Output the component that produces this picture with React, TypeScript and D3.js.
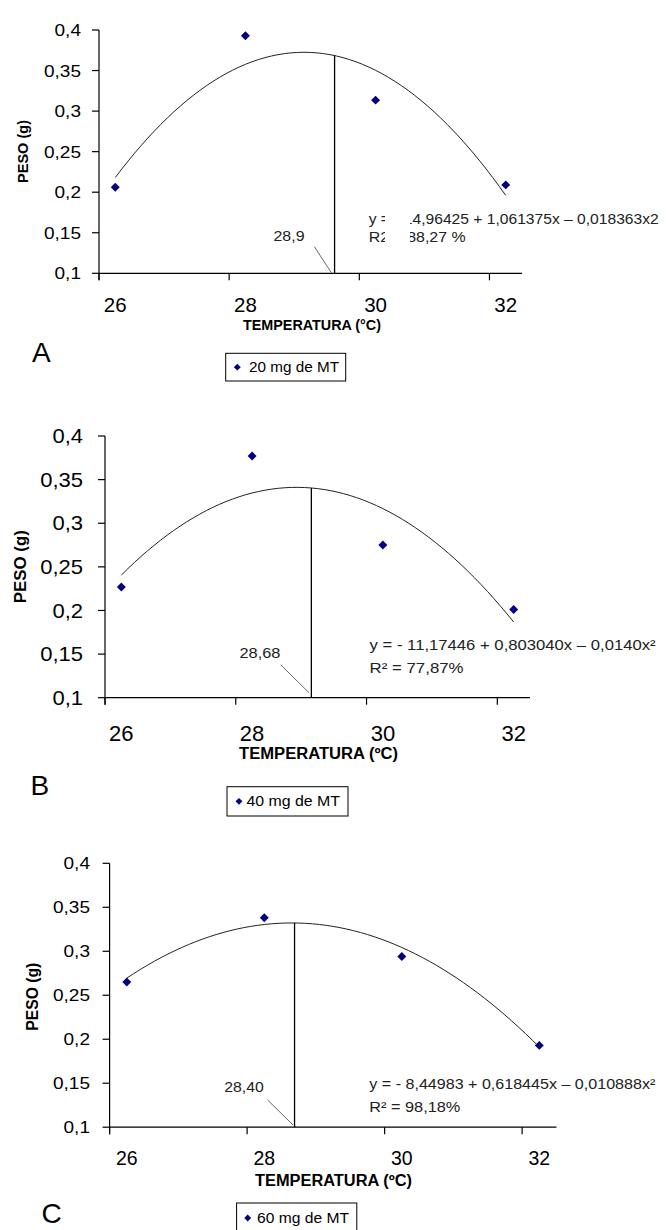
import React from 'react';
import * as d3 from 'd3';

// ---------- data ----------
const temps = [26, 28, 30, 32];
const tickTemps = [25.75, 27.75, 29.75, 31.75];
const xTickLabels = ['26', '28', '30', '32'];
const yTicks = [0.1, 0.15, 0.2, 0.25, 0.3, 0.35, 0.4];
const yTickLabels = ['0,1', '0,15', '0,2', '0,25', '0,3', '0,35', '0,4'];

const pesoA = [0.206, 0.393, 0.3135, 0.209];
const pesoB = [0.227, 0.377, 0.275, 0.201];
const pesoC = [0.265, 0.338, 0.294, 0.193];

const coefA = [-14.96425, 1.061375, -0.018363];
const coefB = [-11.17446, 0.80304, -0.014];
const coefC = [-8.44983, 0.618445, -0.010888];

const seriesNames = ['20 mg de MT', '40 mg de MT', '60 mg de MT'];
const panelLetters = ['A', 'B', 'C'];
const xTitles = ['TEMPERATURA (°C)', 'TEMPERATURA (ºC)', 'TEMPERATURA (ºC)'];
const eqTexts = [
  'y = - 14,96425 + 1,061375x – 0,018363x2',
  'y = - 11,17446 + 0,803040x – 0,0140x²',
  'y = - 8,44983 + 0,618445x – 0,010888x²',
];
const r2Texts = ['R2 = 88,27 %', 'R² = 77,87%', 'R² = 98,18%'];
const optimumLabels = ['28,9', '28,68', '28,40'];
const optimumX = [29.37, 28.906, 28.44];
// annotation label anchor (temperature, peso) and leader start/end
const labelPos = [[28.67, 0.146], [28.12, 0.1512], [27.705, 0.146]];
const leaderFrom = [[29.06, 0.1328], [28.44, 0.1375], [28.048, 0.1309]];
const leaderTo = [[29.32, 0.1007], [28.87, 0.1057], [28.418, 0.1025]];

const pesos = [pesoA, pesoB, pesoC];
const coefs = [coefA, coefB, coefC];

// ---------- layout ----------
const FONT = '"Liberation Sans", Arial, Helvetica, sans-serif';
const layouts = [
  {
    x0: 99, x1: 522, yTop: 30, yBot: 273.3,
    yLabRight: 81, yLabSize: 17, yLabScale: 1.12,
    xLabY: 311.5, xLabSize: 20.5,
    titleX: 312, titleY: 330, titleSize: 14, titleW: 138,
    pesoX: 23, pesoY: 151.5, pesoSize: 14, pesoW: 63,
    letterX: 32, letterY: 361.7,
    leg: [225.7, 353.3, 120, 27.7], legDx: 237.3, legTx: 249, legTw: 90,
    eqX: 368.7, eqY1: 223.5, eqY2: 242, eqW: 290, r2W: 97, eqSize: 14.5,
    labSize: 14, labW: 31,
    mask: [385, 206, 25, 38],
  },
  {
    x0: 105, x1: 530, yTop: 436, yBot: 697.7,
    yLabRight: 83, yLabSize: 20, yLabScale: 1.1,
    xLabY: 741, xLabSize: 22,
    titleX: 318.6, titleY: 759, titleSize: 16, titleW: 159,
    pesoX: 20, pesoY: 566.7, pesoSize: 17, pesoW: 73,
    letterX: 30.6, letterY: 795,
    leg: [227, 786.7, 121, 29.3], legDx: 239, legTx: 246.4, legTw: 93.6,
    eqX: 369.6, eqY1: 650, eqY2: 673, eqW: 286, r2W: 94, eqSize: 14.5,
    labSize: 14.5, labW: 41,
    mask: null,
  },
  {
    x0: 109.6, x1: 556.5, yTop: 863.3, yBot: 1127.2,
    yLabRight: 90, yLabSize: 17, yLabScale: 1.12,
    xLabY: 1164.5, xLabSize: 19.5,
    titleX: 333.5, titleY: 1186, titleSize: 16, titleW: 157,
    pesoX: 32, pesoY: 996.7, pesoSize: 16, pesoW: 68,
    letterX: 41.6, letterY: 1223,
    leg: [236.6, 1203, 120.2, 30], legDx: 247.7, legTx: 257, legTw: 92,
    eqX: 369.3, eqY1: 1088.5, eqY2: 1112, eqW: 286, r2W: 91, eqSize: 14.5,
    labSize: 14.5, labW: 39.5,
    mask: null,
  },
];

const diamond = (area: number) => {
  const p = d3.symbol().type(d3.symbolSquare).size(area)();
  return p as string;
};

function Panel({ i }: { i: number }) {
  const L = layouts[i];
  const peso = pesos[i];
  const coef = coefs[i];
  const x = d3.scaleLinear().domain([25.75, 32.25]).range([L.x0, L.x1]);
  const y = d3.scaleLinear().domain([0.1, 0.4]).range([L.yBot, L.yTop]);
  const f = (t: number) => coef[0] + coef[1] * t + coef[2] * t * t;
  const samples = d3.range(0, 61).map((k) => temps[0] + (k * (temps[3] - temps[0])) / 60);
  const line = d3.line<number>().x((d) => x(d)).y((d) => y(f(d)));
  const vx = optimumX[i];
  const dPoint = diamond(40);
  const dLeg = diamond(24);

  return (
    <g fontFamily={FONT}>
      {/* y axis */}
      <line x1={x(25.75)} x2={x(25.75)} y1={y(0.4)} y2={y(0.1) + 7} stroke="#000" strokeWidth={1.2} />
      {yTicks.map((t, k) => (
        <g key={'yt' + k}>
          <line x1={x(25.75) - 7} x2={x(25.75)} y1={y(t)} y2={y(t)} stroke="#000" strokeWidth={1.2} />
          <g transform={`translate(${L.yLabRight},${y(t) + L.yLabSize * 0.36}) scale(${L.yLabScale},1)`}>
            <text textAnchor="end" fontSize={L.yLabSize} fill="#000">{yTickLabels[k]}</text>
          </g>
        </g>
      ))}
      {/* x axis */}
      <line x1={x(25.75)} x2={x(32.25)} y1={y(0.1)} y2={y(0.1)} stroke="#000" strokeWidth={1.2} />
      {tickTemps.map((t, k) => (
        <line key={'xt' + k} x1={x(t)} x2={x(t)} y1={y(0.1)} y2={y(0.1) + 7} stroke="#000" strokeWidth={1.2} />
      ))}
      {temps.map((t, k) => (
        <text key={'xl' + k} x={x(t)} y={L.xLabY} textAnchor="middle" fontSize={L.xLabSize} fill="#000">
          {xTickLabels[k]}
        </text>
      ))}
      {/* titles */}
      <text x={L.titleX} y={L.titleY} textAnchor="middle" fontSize={L.titleSize} fontWeight="bold"
        textLength={L.titleW} lengthAdjust="spacingAndGlyphs" fill="#000">{xTitles[i]}</text>
      <text transform={`translate(${L.pesoX + L.pesoSize * 0.36},${L.pesoY}) rotate(-90)`} textAnchor="middle"
        fontSize={L.pesoSize} fontWeight="bold" textLength={L.pesoW} lengthAdjust="spacingAndGlyphs" fill="#000">PESO (g)</text>
      <text x={L.letterX} y={L.letterY} fontSize={28} fill="#000">{panelLetters[i]}</text>
      {/* trend curve */}
      <path d={line(samples) as string} fill="none" stroke="#222" strokeWidth={1} />
      {/* optimum line */}
      <line x1={x(vx)} x2={x(vx)} y1={y(0.1)} y2={y(f(vx))} stroke="#000" strokeWidth={1.3} />
      <line x1={x(leaderFrom[i][0])} y1={y(leaderFrom[i][1])} x2={x(leaderTo[i][0])} y2={y(leaderTo[i][1])}
        stroke="#666" strokeWidth={1} />
      <text x={x(labelPos[i][0])} y={y(labelPos[i][1]) + 5} textAnchor="middle" fontSize={L.labSize}
        textLength={L.labW} lengthAdjust="spacingAndGlyphs" fill="#222">{optimumLabels[i]}</text>
      {/* points */}
      {temps.map((t, k) => (
        <path key={'p' + k} d={dPoint} transform={`translate(${x(t)},${y(peso[k])}) rotate(45)`} fill="#000080" />
      ))}
      {/* equation */}
      <text x={L.eqX} y={L.eqY1} fontSize={L.eqSize} textLength={L.eqW} lengthAdjust="spacingAndGlyphs" fill="#222">
        {eqTexts[i]}
      </text>
      <text x={L.eqX} y={L.eqY2} fontSize={L.eqSize} textLength={L.r2W} lengthAdjust="spacingAndGlyphs" fill="#222">
        {r2Texts[i]}
      </text>
      {L.mask && <rect x={L.mask[0]} y={L.mask[1]} width={L.mask[2]} height={L.mask[3]} fill="#fff" />}
      {/* legend */}
      <rect x={L.leg[0]} y={L.leg[1]} width={L.leg[2]} height={L.leg[3]} fill="#fff" stroke="#000" strokeWidth={1} />
      <path d={dLeg} transform={`translate(${L.legDx},${L.leg[1] + L.leg[3] / 2}) rotate(45)`} fill="#000080" />
      <text x={L.legTx} y={L.leg[1] + L.leg[3] / 2 + 5} fontSize={14} textLength={L.legTw}
        lengthAdjust="spacingAndGlyphs" fill="#000">{seriesNames[i]}</text>
    </g>
  );
}

export default function App() {
  return (
    <svg width={666} height={1230} style={{ position: 'absolute', left: 0, top: 0, background: '#fff' }}>
      <rect width={666} height={1230} fill="#fff" />
      {[0, 1, 2].map((i) => (
        <Panel key={i} i={i} />
      ))}
    </svg>
  );
}
